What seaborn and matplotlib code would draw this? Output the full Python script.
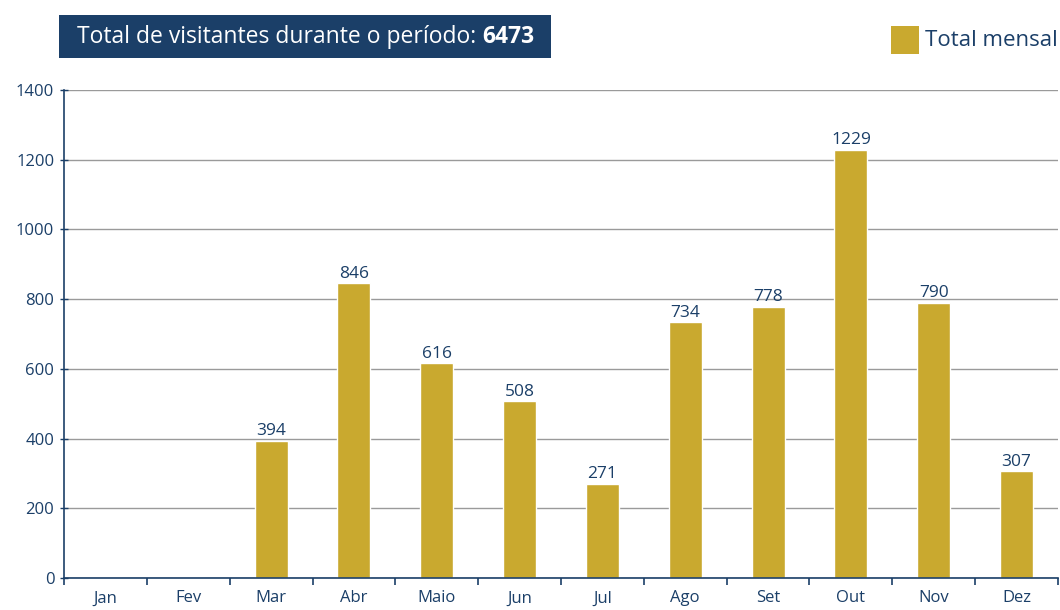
import matplotlib
matplotlib.use("Agg")
import matplotlib.pyplot as plt
import seaborn as sns
import pandas as pd
from matplotlib.ticker import FixedLocator
from matplotlib.patches import Rectangle

meses = ["Jan", "Fev", "Mar", "Abr", "Maio", "Jun", "Jul", "Ago", "Set", "Out", "Nov", "Dez"]
visitantes = [0, 0, 394, 846, 616, 508, 271, 734, 778, 1229, 790, 307]
total = 6473

azul = "#1b3f68"
ouro = "#c9a92f"

sns.set_theme(style="white")
plt.rcParams["font.family"] = ["Open Sans", "DejaVu Sans"]

df = pd.DataFrame({"mes": meses, "total": visitantes})

W, H = 1060, 610
fig = plt.figure(figsize=(W / 100, H / 100), dpi=100)
ax = fig.add_axes([64 / W, 32 / H, 994 / W, 488 / H])

sns.barplot(data=df, x="mes", y="total", color=ouro, width=0.4, saturation=1, ax=ax)
ax.set_xlim(-0.5, len(meses) - 0.5)
ax.set_ylim(0, 1400)
ax.set_yticks(range(0, 1401, 200))
ax.yaxis.grid(True, color="#9a9a9a", linewidth=1)
ax.set_axisbelow(True)

for s in ["top", "right"]:
    ax.spines[s].set_visible(False)
for s in ["left", "bottom"]:
    ax.spines[s].set_color(azul)
    ax.spines[s].set_linewidth(1.2)

ax.set_xlabel("")
ax.set_ylabel("")
ax.tick_params(axis="x", which="major", length=0, pad=9, labelsize=12, labelcolor=azul)
ax.xaxis.set_minor_locator(FixedLocator([i - 0.5 for i in range(len(meses) + 1)]))
ax.tick_params(axis="x", which="minor", length=5, width=1.2, color=azul, direction="out", bottom=True)
ax.tick_params(axis="y", length=6, width=1, color=azul, direction="inout", labelsize=12, labelcolor=azul, pad=4, left=True)

labels = [str(v) if v > 0 else "" for v in visitantes]
ax.bar_label(ax.containers[0], labels=labels, padding=1, color=azul, fontsize=12.5)

# caixa do titulo
fig.patches.append(Rectangle((59 / W, 1 - 58 / H), 492 / W, 43 / H, transform=fig.transFigure,
                             facecolor=azul, edgecolor="none"))
t1 = fig.text(77 / W, 1 - 37 / H, "Total de visitantes durante o período: ", color="white", fontsize=16.5,
              va="center", ha="left")
fig.canvas.draw()
r = t1.get_window_extent()
fig.text(r.x1 / W, 1 - 37 / H, str(total), color="white", fontsize=16.5, fontweight="bold",
         va="center", ha="left")

# legenda
fig.patches.append(Rectangle((891 / W, 1 - 54 / H), 28 / W, 28 / H, transform=fig.transFigure,
                             facecolor=ouro, edgecolor="none"))
fig.text(925 / W, 1 - 40 / H, "Total mensal", color=azul, fontsize=16, va="center", ha="left")

fig.savefig("out.png", dpi=100)
